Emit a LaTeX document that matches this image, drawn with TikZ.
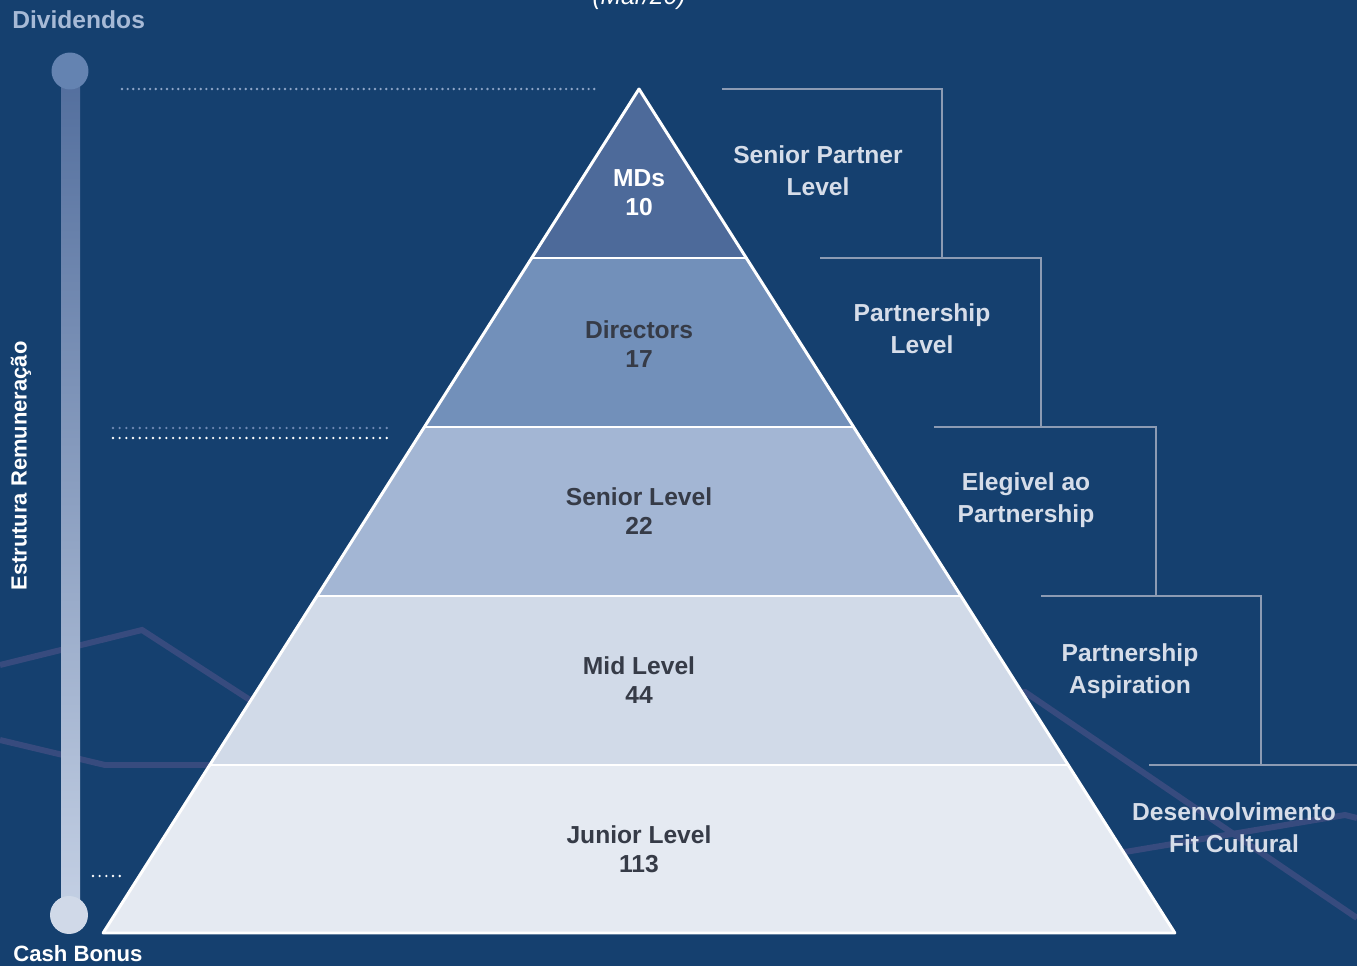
\documentclass[tikz,border=0pt]{standalone}
\usepackage{fontspec}
\setmainfont{Liberation Sans}
\usepackage{tikz}

\definecolor{bgblue}{HTML}{15406F}
\definecolor{trendblue}{HTML}{374B7E}
\definecolor{mdsblue}{HTML}{4D6A9A}
\definecolor{dirblue}{HTML}{7290BA}
\definecolor{senblue}{HTML}{A3B6D4}
\definecolor{midblue}{HTML}{D1DAE8}
\definecolor{junblue}{HTML}{E5EAF2}
\definecolor{labeldark}{HTML}{363B47}
\definecolor{levelgrey}{HTML}{D6DDE9}
\definecolor{bracketgrey}{HTML}{8C9BB3}
\definecolor{bartop}{HTML}{526E9D}
\definecolor{barbottom}{HTML}{C4D0E4}
\definecolor{knobtop}{HTML}{6483B1}
\definecolor{knobbottom}{HTML}{D0D9E8}
\definecolor{divblue}{HTML}{A7BAD6}
\definecolor{dotblue}{HTML}{8FA6C8}
\definecolor{dotgrey}{HTML}{6F8AB5}

\tikzset{
  layerlabel/.style={align=center,text=labeldark,
    font=\fontsize{14}{16.4}\selectfont\bfseries},
  levellabel/.style={align=center,text=levelgrey,
    font=\fontsize{14}{18.1}\selectfont\bfseries},
  bracket/.style={draw=bracketgrey,line width=0.7pt},
  trendline/.style={draw=trendblue,line width=3.4pt},
  dotline/.style={line width=1.5pt,line cap=round,dash pattern=on 0pt off 3.8pt},
  layeredge/.style={draw=white,line width=1.7pt,line join=round},
}

\begin{document}
\begin{tikzpicture}
   \begin{scope}[x=0.02cm,y=-0.02cm]
    \useasboundingbox (0,0) rectangle (1357,966);
    \clip (0,0) rectangle (1357,966);
    \fill[bgblue] (0,0) rectangle (1357,966);
    \draw[trendline] (0,665) -- (142,630) -- (250,700) -- (1025,692) -- (1357,918);
    \draw[trendline] (0,740) -- (105,765) -- (213,765) -- (1125,852) -- (1345,815) -- (1357,818);
    \fill[mdsblue] (639.0, 89) -- (746.3,258) -- (531.7,258) -- cycle;
    \fill[dirblue] (531.7,258) -- (746.3,258) -- (853.6,427) -- (424.4,427) -- cycle;
    \fill[senblue] (424.4,427) -- (853.6,427) -- (960.9,596) -- (317.1,596) -- cycle;
    \fill[midblue] (317.1,596) -- (960.9,596) -- (1068.3,765) -- (209.7,765) -- cycle;
    \fill[junblue] (209.7,765) -- (1068.3,765) -- (1174.9,933) -- (103.1,933) -- cycle;
    \draw[layeredge] (639.0,89) -- (1174.9,933) -- (103.1,933) -- cycle;
    \draw[layeredge] (531.7,258) -- ( 746.3,258);
    \draw[layeredge] (424.4,427) -- ( 853.6,427);
    \draw[layeredge] (317.1,596) -- ( 960.9,596);
    \draw[layeredge] (209.7,765) -- (1068.3,765);
    \node[layerlabel,text=white] (mds)    at (639,193) {MDs\\10};
    \node[layerlabel]            (dirs)   at (639,344) {Directors\\17};
    \node[layerlabel]            (senior) at (639,511) {Senior Level\\22};
    \node[layerlabel]            (mid)    at (639,680) {Mid Level\\44};
    \node[layerlabel]            (junior) at (639,849) {Junior Level\\113};
    \draw[bracket] ( 722, 89) -- ( 942, 89) -- ( 942,258);
    \draw[bracket] ( 820,258) -- (1041,258) -- (1041,427);
    \draw[bracket] ( 934,427) -- (1156,427) -- (1156,596);
    \draw[bracket] (1041,596) -- (1261,596) -- (1261,765);
    \draw[bracket] (1149,765) -- (1357,765);
    \node[levellabel] (seniorpartner) at ( 818,171) {Senior Partner\\Level};
    \node[levellabel] (partnerlevel)  at ( 922,329) {Partnership\\Level};
    \node[levellabel] (elegivel)      at (1026,500) {Elegivel ao\\Partnership};
    \node[levellabel] (aspiration)    at (1130,671) {Partnership\\Aspiration};
    \node[levellabel] (fitcultural)   at (1234,828) {Desenvolvimento\\Fit Cultural};
    \shade[top color=bartop,bottom color=barbottom] (61,71) rectangle (80,915);
    \fill[knobtop]    (70,71)  circle (0.37cm);
    \fill[knobbottom] (69,915) circle (0.38cm);
    \draw[dotline,draw=dotblue,dash pattern=on 0pt off 3.2pt] (122,89) -- (597,89);
    \draw[dotline,draw=dotgrey] (113,428) -- (387,428);
    \draw[dotline,draw=white]   (113,438) -- (387,438);
    \draw[dotline,draw=white]   ( 93,876) -- (123,876);
    \node[anchor=base west,inner sep=0pt,text=divblue,
      font=\fontsize{14}{16}\selectfont\bfseries] (dividendos) at (12,29) {Dividendos};
    \node[anchor=base west,inner sep=0pt,text=white,
      font=\fontsize{12.6}{15}\selectfont\bfseries] (cashbonus) at (13,961) {Cash Bonus};
    \node[rotate=90,inner sep=0pt,text=white,
      font=\fontsize{12.5}{14}\selectfont\bfseries] (estrutura) at (21,466) {Estrutura Remuneração};
    \node[anchor=base,inner sep=0pt,text=white,
      font=\fontsize{14}{16}\selectfont\itshape] (date) at (639,5) {(Mar/20)};
   \end{scope}
  \end{tikzpicture}
\end{document}
